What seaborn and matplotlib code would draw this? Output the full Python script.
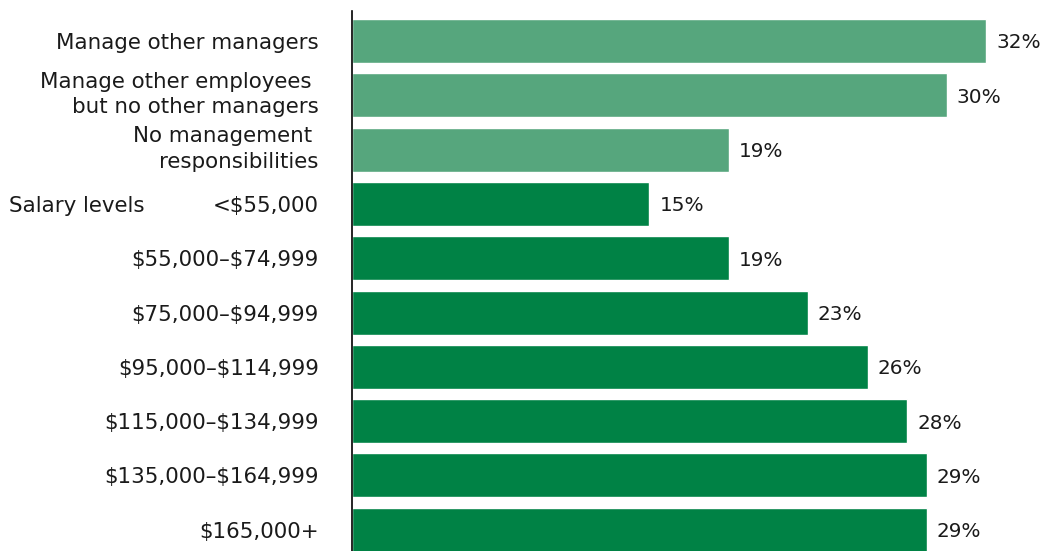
import matplotlib
matplotlib.use("Agg")
import matplotlib.pyplot as plt
import matplotlib.transforms as mtransforms
import seaborn as sns
import pandas as pd

categories = [
    "Manage other managers",
    "Manage other employees \nbut no other managers",
    "No management \nresponsibilities",
    "<$55,000",
    "$55,000\u2013$74,999",
    "$75,000\u2013$94,999",
    "$95,000\u2013$114,999",
    "$115,000\u2013$134,999",
    "$135,000\u2013$164,999",
    "$165,000+",
]
values = [32, 30, 19, 15, 19, 23, 26, 28, 29, 29]
groups = ["management"] * 3 + ["salary"] * 7
group_colours = {"management": "#56a67d", "salary": "#008245"}
group_heading = "Salary levels"

sns.set_theme(style="white")
plt.rcParams["font.family"] = ["DejaVu Sans"]
plt.rcParams["text.parse_math"] = False
text_colour = "#1a1a1a"
label_size = 15.4
value_size = 14.4

df = pd.DataFrame({"category": categories, "value": values, "group": groups})

fig = plt.figure(figsize=(10.44, 5.51), dpi=100)
ax = fig.add_axes([352 / 1044, 0.0, 1 - 352 / 1044, 1 - 11 / 551])

sns.barplot(
    data=df, y="category", x="value", hue="category",
    palette=[group_colours[g] for g in groups],
    width=0.81, saturation=1, legend=False, ax=ax, orient="h",
)

ax.set_xlim(0, 34.9)
ax.set_ylim(9.39, -0.55)
ax.set_xlabel("")
ax.set_ylabel("")
ax.set_xticks([])
for side in ("top", "right", "bottom"):
    ax.spines[side].set_visible(False)
ax.spines["left"].set_color("#000000")
ax.spines["left"].set_linewidth(1.2)

ax.tick_params(axis="y", length=0, pad=24, labelsize=label_size, colors=text_colour)
# two-line labels sit a little above the bar centre
lift = mtransforms.ScaledTranslation(0, 4 / 72, fig.dpi_scale_trans)
for lbl in ax.get_yticklabels():
    lbl.set_multialignment("right")
    lbl.set_linespacing(1.35)
    if "\n" in lbl.get_text():
        lbl.set_transform(lbl.get_transform() + lift)

for i, v in enumerate(values):
    ax.text(v + 0.5, i, f"{v}%", va="center_baseline", ha="left",
            fontsize=value_size, color=text_colour)

# group heading sits at the left edge of the figure, level with the first salary row
first_salary = groups.index("salary")
ax.text(9 / 1044, first_salary, group_heading,
        transform=mtransforms.blended_transform_factory(fig.transFigure, ax.transData),
        va="center_baseline", ha="left", fontsize=label_size, color=text_colour)

fig.savefig("out.png", dpi=100)
